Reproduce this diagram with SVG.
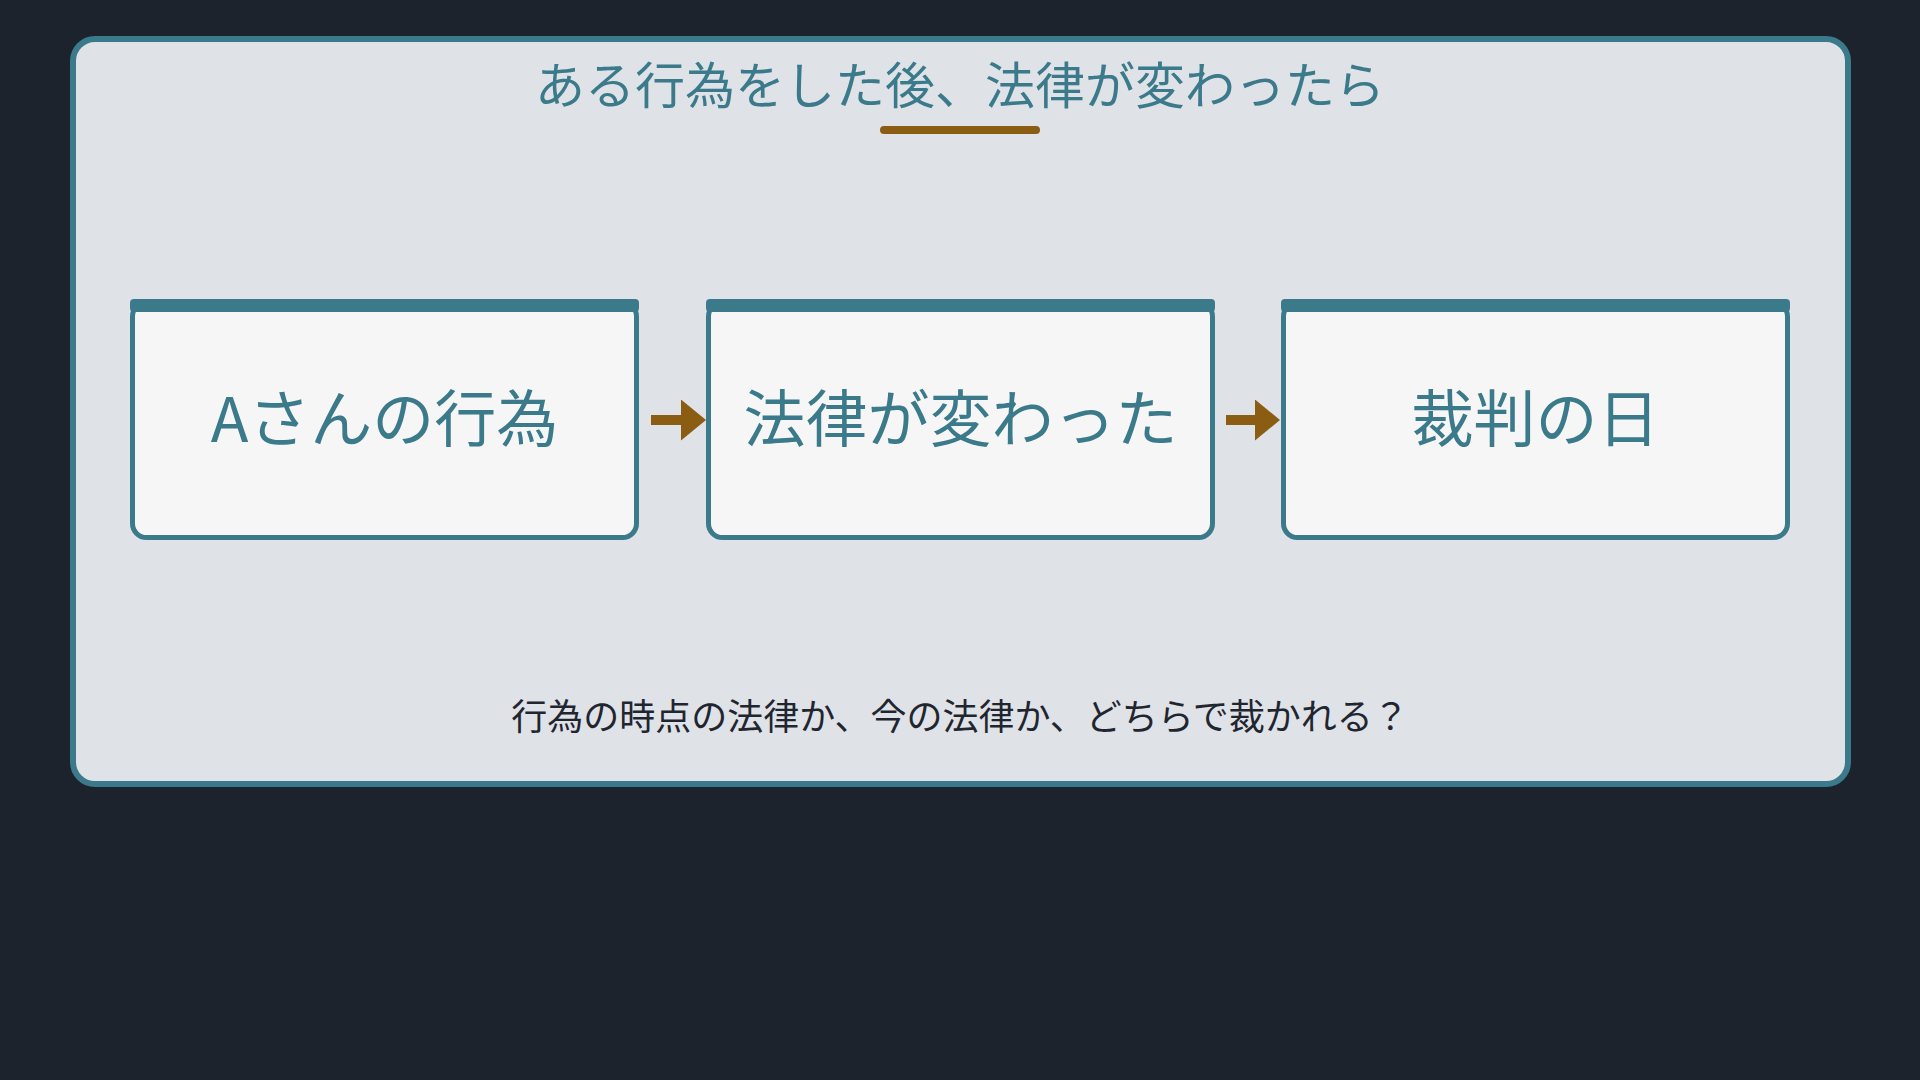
<svg xmlns="http://www.w3.org/2000/svg" width="1920" height="1080" viewBox="0 0 1920 1080">
  <style>
    .jp { font-family: "Noto Sans CJK JP", "Noto Sans", sans-serif; }
    .title { font-size: 50px; fill: #3b7a8a; }
    .box { fill: #f6f6f6; stroke: #3b7a8a; stroke-width: 5; }
    .bar { fill: #3b7a8a; }
    .label { font-size: 62px; fill: #3b7a8a; }
    .note { font-size: 36px; fill: #1f2630; }
    .conn { stroke: #8a5d12; stroke-width: 10; fill: none; }
  </style>
  <defs>
    <marker id="head" markerUnits="userSpaceOnUse" markerWidth="26" markerHeight="42" refX="0" refY="20.5" orient="auto" viewBox="0 0 26 42">
      <path d="M0,0 L25,20.5 L0,41 Z" fill="#8a5d12"/>
    </marker>
  </defs>
  <rect x="0" y="0" width="1920" height="1080" fill="#1c232d"/>
  <g id="frame">
    <rect x="73" y="39" width="1775" height="745" rx="22" ry="22" fill="#dfe2e7" stroke="#3b7a8a" stroke-width="6"/>
    <text class="jp title" x="960" y="104" text-anchor="middle">ある行為をした後、法律が変わったら</text>
    <rect x="880" y="126" width="160" height="8" rx="4" fill="#8a5d12"/>
  </g>
  <g id="node-act">
    <rect class="box" x="132.5" y="302.5" width="504" height="235" rx="14"/>
    <rect class="bar" x="130" y="299" width="509" height="13" rx="4"/>
    <text class="jp label" x="384.5" y="442" text-anchor="middle">Aさんの行為</text>
  </g>
  <g id="node-law">
    <rect class="box" x="708.5" y="302.5" width="504" height="235" rx="14"/>
    <rect class="bar" x="706" y="299" width="509" height="13" rx="4"/>
    <text class="jp label" x="960.5" y="442" text-anchor="middle">法律が変わった</text>
  </g>
  <g id="node-trial">
    <rect class="box" x="1283.5" y="302.5" width="504" height="235" rx="14"/>
    <rect class="bar" x="1281" y="299" width="509" height="13" rx="4"/>
    <text class="jp label" x="1535.5" y="442" text-anchor="middle">裁判の日</text>
  </g>
  <g id="connectors">
    <line class="conn" x1="651" y1="420" x2="681" y2="420" marker-end="url(#head)"/>
    <line class="conn" x1="1226" y1="420" x2="1255" y2="420" marker-end="url(#head)"/>
  </g>
  <g id="question">
    <text class="jp note" x="960" y="730" text-anchor="middle">行為の時点の法律か、今の法律か、どちらで裁かれる？</text>
  </g>
</svg>
